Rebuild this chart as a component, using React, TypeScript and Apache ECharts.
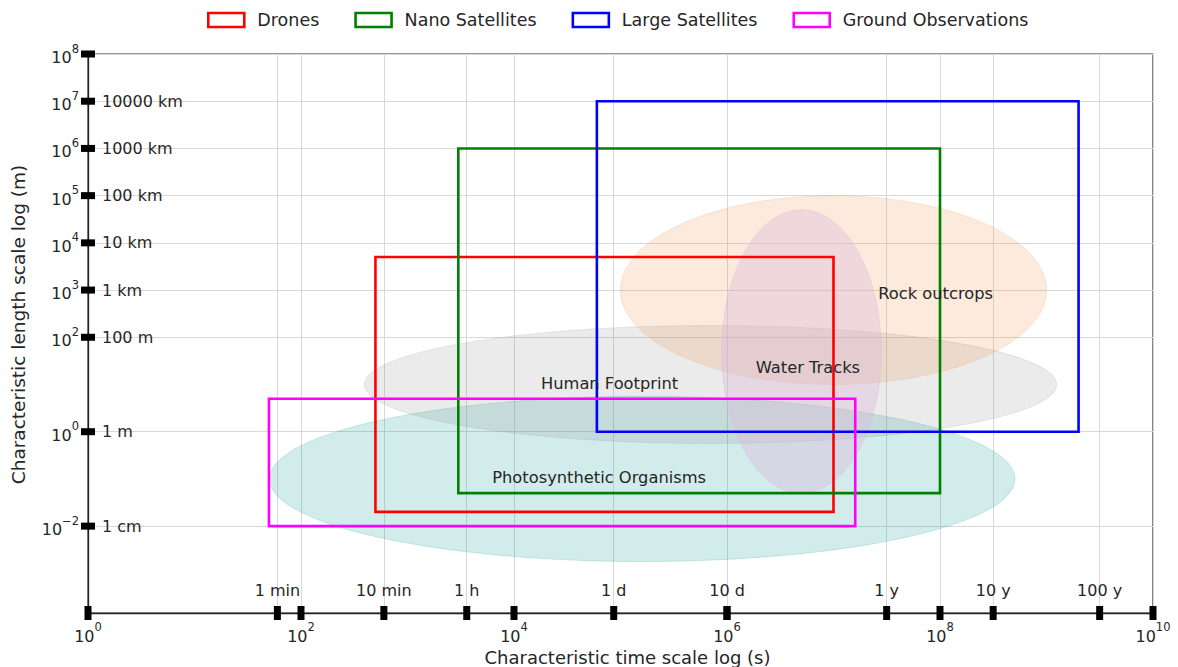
import React, { useEffect, useRef } from 'react';
import * as echarts from 'echarts';

const FONT = '"DejaVu Sans", Verdana, sans-serif';
const TEXT_COLOR = '#262626';

// Axis ranges in log10 units
const X_MIN = 0;
const X_MAX = 10;
const Y_MIN = -3.84;
const Y_MAX = 8;

// Tick definitions
const timeExponentTicks = [0, 2, 4, 6, 8, 10];
const timeUnitSeconds = [60, 600, 3600, 86400, 1e6, 31557600, 315576000, 3155760000];
const timeUnitLabels = ['1 min', '10 min', '1 h', '1 d', '10 d', '1 y', '10 y', '100 y'];
const lengthExponentTicks = [8, 7, 6, 5, 4, 3, 2, 0, -2];
const lengthUnitMeters = [1e7, 1e6, 1e5, 1e4, 1e3, 1e2, 1, 0.01];
const lengthUnitLabels = ['10000 km', '1000 km', '100 km', '10 km', '1 km', '100 m', '1 m', '1 cm'];

// Observation platforms (rectangles): time in s, length in m
const platformNames = ['Drones', 'Nano Satellites', 'Large Satellites', 'Ground Observations'];
const platformColors = ['#ff0000', '#008000', '#0000ff', '#ff00ff'];
const platformTimeMin = [500, 3000, 6e4, 50];
const platformTimeMax = [1e7, 1e8, 2e9, 1.6e7];
const platformLengthMin = [0.02, 0.05, 1, 0.01];
const platformLengthMax = [5000, 1e6, 1e7, 5];

// Features of interest (ellipses)
const featureNames = ['Photosynthetic Organisms', 'Human Footprint', 'Rock outcrops', 'Water Tracks'];
const featureCenterTime = [1.6e5, 7e5, 1e7, 5e6];
const featureCenterLength = [0.1, 10, 1000, 50];
const featureWidthDecades = [7, 6.5, 4, 1.5];
const featureHeightDecades = [3.5, 2.5, 4, 6];
const featureFills = [
  'rgba(0,150,140,0.18)',
  'rgba(128,128,128,0.16)',
  'rgba(240,140,60,0.18)',
  'rgba(222,185,218,0.38)',
];
const featureLabelTime = [6.3e4, 7.9e4, 9.1e7, 5.75e6];
const featureLabelLength = [0.105, 10.7, 830, 23.4];

const lg = (v: number) => Math.log10(v);

const superscript = (exp: number) => {
  const e = exp < 0 ? '\u2212' + Math.abs(exp) : String(exp);
  return `{b|10}{s|${e}}`;
};

const supRich = {
  b: { fontSize: 16, fontFamily: FONT, color: TEXT_COLOR, lineHeight: 23, verticalAlign: 'bottom' },
  s: { fontSize: 11.5, fontFamily: FONT, color: TEXT_COLOR, verticalAlign: 'top' },
};

export default function App() {
  const ref = useRef<HTMLDivElement>(null);

  useEffect(() => {
    document.body.style.margin = '0';
    if (!ref.current) return;
    const chart = echarts.init(ref.current, undefined, { renderer: 'svg' });

    const timeUnitLog = timeUnitSeconds.map(lg);
    const xGridValues = [...timeExponentTicks, ...timeUnitLog];
    const yGridValues = [...lengthExponentTicks];
    const lengthUnitLog = lengthUnitMeters.map(lg);

    const nearestIndex = (arr: number[], v: number) => {
      let best = 0;
      for (let i = 1; i < arr.length; i++) {
        if (Math.abs(arr[i] - v) < Math.abs(arr[best] - v)) best = i;
      }
      return best;
    };

    const rectSeries = platformNames.map((name, i) => ({
      type: 'custom',
      name,
      xAxisIndex: 0,
      yAxisIndex: 0,
      z: 5,
      itemStyle: { color: platformColors[i] },
      encode: { x: [0, 1], y: [2, 3] },
      data: [[lg(platformTimeMin[i]), lg(platformTimeMax[i]), lg(platformLengthMin[i]), lg(platformLengthMax[i])]],
      renderItem: (params: any, api: any) => {
        const p0 = api.coord([api.value(0), api.value(3)]);
        const p1 = api.coord([api.value(1), api.value(2)]);
        return {
          type: 'rect',
          shape: { x: p0[0], y: p0[1], width: p1[0] - p0[0], height: p1[1] - p0[1] },
          style: { fill: 'none', stroke: platformColors[i], lineWidth: 2.6 },
        };
      },
    }));

    const ellipseSeries = {
      type: 'custom',
      name: 'features',
      z: 3,
      encode: { x: 0, y: 1 },
      data: featureNames.map((_, i) => [
        lg(featureCenterTime[i]),
        lg(featureCenterLength[i]),
        featureWidthDecades[i],
        featureHeightDecades[i],
      ]),
      renderItem: (params: any, api: any) => {
        const cx = api.value(0);
        const cy = api.value(1);
        const c = api.coord([cx, cy]);
        const r = api.coord([cx + api.value(2) / 2, cy + api.value(3) / 2]);
        const fill = featureFills[params.dataIndex];
        return {
          type: 'ellipse',
          shape: { cx: c[0], cy: c[1], rx: r[0] - c[0], ry: c[1] - r[1] },
          style: { fill, stroke: fill, lineWidth: 1 },
        };
      },
    };

    const labelSeries = {
      type: 'custom',
      name: 'featureLabels',
      z: 6,
      encode: { x: 0, y: 1 },
      data: featureNames.map((_, i) => [lg(featureLabelTime[i]), lg(featureLabelLength[i])]),
      renderItem: (params: any, api: any) => {
        const p = api.coord([api.value(0), api.value(1)]);
        return {
          type: 'text',
          x: p[0],
          y: p[1],
          style: {
            text: featureNames[params.dataIndex],
            fill: TEXT_COLOR,
            font: `16.3px ${FONT}`,
            align: 'center',
            verticalAlign: 'middle',
          },
        };
      },
    };

    const xTickSeries = {
      type: 'custom',
      name: 'xTicks',
      z: 8,
      encode: { x: 0, y: 1 },
      data: xGridValues.map((v) => [v, Y_MIN]),
      renderItem: (params: any, api: any) => {
        const p = api.coord([api.value(0), api.value(1)]);
        return { type: 'rect', shape: { x: p[0] - 3.5, y: p[1] - 7, width: 7, height: 14 }, style: { fill: '#000' } };
      },
    };

    const yTickSeries = {
      type: 'custom',
      name: 'yTicks',
      z: 8,
      encode: { x: 0, y: 1 },
      data: yGridValues.map((v) => [X_MIN, v]),
      renderItem: (params: any, api: any) => {
        const p = api.coord([api.value(0), api.value(1)]);
        return { type: 'rect', shape: { x: p[0] - 7, y: p[1] - 3.5, width: 14, height: 7 }, style: { fill: '#000' } };
      },
    };

    const option: any = {
      animation: false,
      backgroundColor: '#ffffff',
      grid: {
        left: 88,
        right: 25,
        top: 54,
        bottom: 54,
        outerBoundsMode: 'none',
        containLabel: false,
        show: true,
        borderColor: '#333',
        borderWidth: 1.2,
        backgroundColor: 'transparent',
      },
      legend: {
        left: 207,
        top: 11,
        padding: 0,
        itemWidth: 36,
        itemHeight: 14,
        itemGap: 35,
        textStyle: { fontSize: 17.5, fontFamily: FONT, color: TEXT_COLOR, padding: [0, 0, 0, 8] },
        data: platformNames.map((name, i) => ({
          name,
          icon: 'rect',
          itemStyle: { color: 'rgba(0,0,0,0)', borderColor: platformColors[i], borderWidth: 2.6 },
        })),
      },
      xAxis: [
        {
          type: 'value',
          min: X_MIN,
          max: X_MAX,
          position: 'bottom',
          axisLine: { show: true, onZero: false, lineStyle: { color: '#222', width: 1.3 } },
          axisTick: { show: false, customValues: xGridValues },
          splitLine: { show: true, lineStyle: { color: '#d8d8d8', width: 1 } },
          axisLabel: {
            customValues: timeExponentTicks,
            formatter: (v: number) => superscript(Math.round(v)),
            rich: supRich,
            margin: 8,
          },
          name: 'Characteristic time scale log (s)',
          nameLocation: 'middle',
          nameGap: 31,
          nameTextStyle: { fontSize: 18, fontFamily: FONT, color: TEXT_COLOR, padding: [0, 0, 0, 14] },
        },
        {
          type: 'value',
          min: X_MIN,
          max: X_MAX,
          position: 'bottom',
          axisLine: { show: false },
          axisTick: { show: false },
          splitLine: { show: false },
          axisLabel: {
            inside: true,
            customValues: timeUnitLog,
            formatter: (v: number) => timeUnitLabels[nearestIndex(timeUnitLog, v)],
            fontSize: 16,
            fontFamily: FONT,
            color: TEXT_COLOR,
            margin: 15,
          },
        },
      ],
      yAxis: [
        {
          type: 'value',
          min: Y_MIN,
          max: Y_MAX,
          position: 'left',
          axisLine: { show: true, onZero: false, lineStyle: { color: '#222', width: 1.3 } },
          axisTick: { show: false, customValues: yGridValues },
          splitLine: { show: true, lineStyle: { color: '#d8d8d8', width: 1 } },
          axisLabel: {
            customValues: lengthExponentTicks,
            formatter: (v: number) => superscript(Math.round(v)),
            rich: supRich,
            margin: 9,
          },
          name: 'Characteristic length scale log (m)',
          nameLocation: 'middle',
          nameGap: 60,
          nameTextStyle: { fontSize: 18.5, fontFamily: FONT, color: TEXT_COLOR, padding: [0, 0, 0, 18] },
        },
        {
          type: 'value',
          min: Y_MIN,
          max: Y_MAX,
          position: 'left',
          axisLine: { show: false },
          axisTick: { show: false },
          splitLine: { show: false },
          axisLabel: {
            inside: true,
            customValues: lengthUnitLog,
            formatter: (v: number) => lengthUnitLabels[nearestIndex(lengthUnitLog, v)],
            fontSize: 16,
            fontFamily: FONT,
            color: TEXT_COLOR,
            margin: 14,
          },
        },
      ],
      series: [ellipseSeries, ...rectSeries, labelSeries, xTickSeries, yTickSeries],
    };

    chart.setOption(option);
    return () => chart.dispose();
  }, []);

  return <div ref={ref} style={{ position: 'fixed', left: 0, top: 0, width: 1178, height: 667 }} />;
}
